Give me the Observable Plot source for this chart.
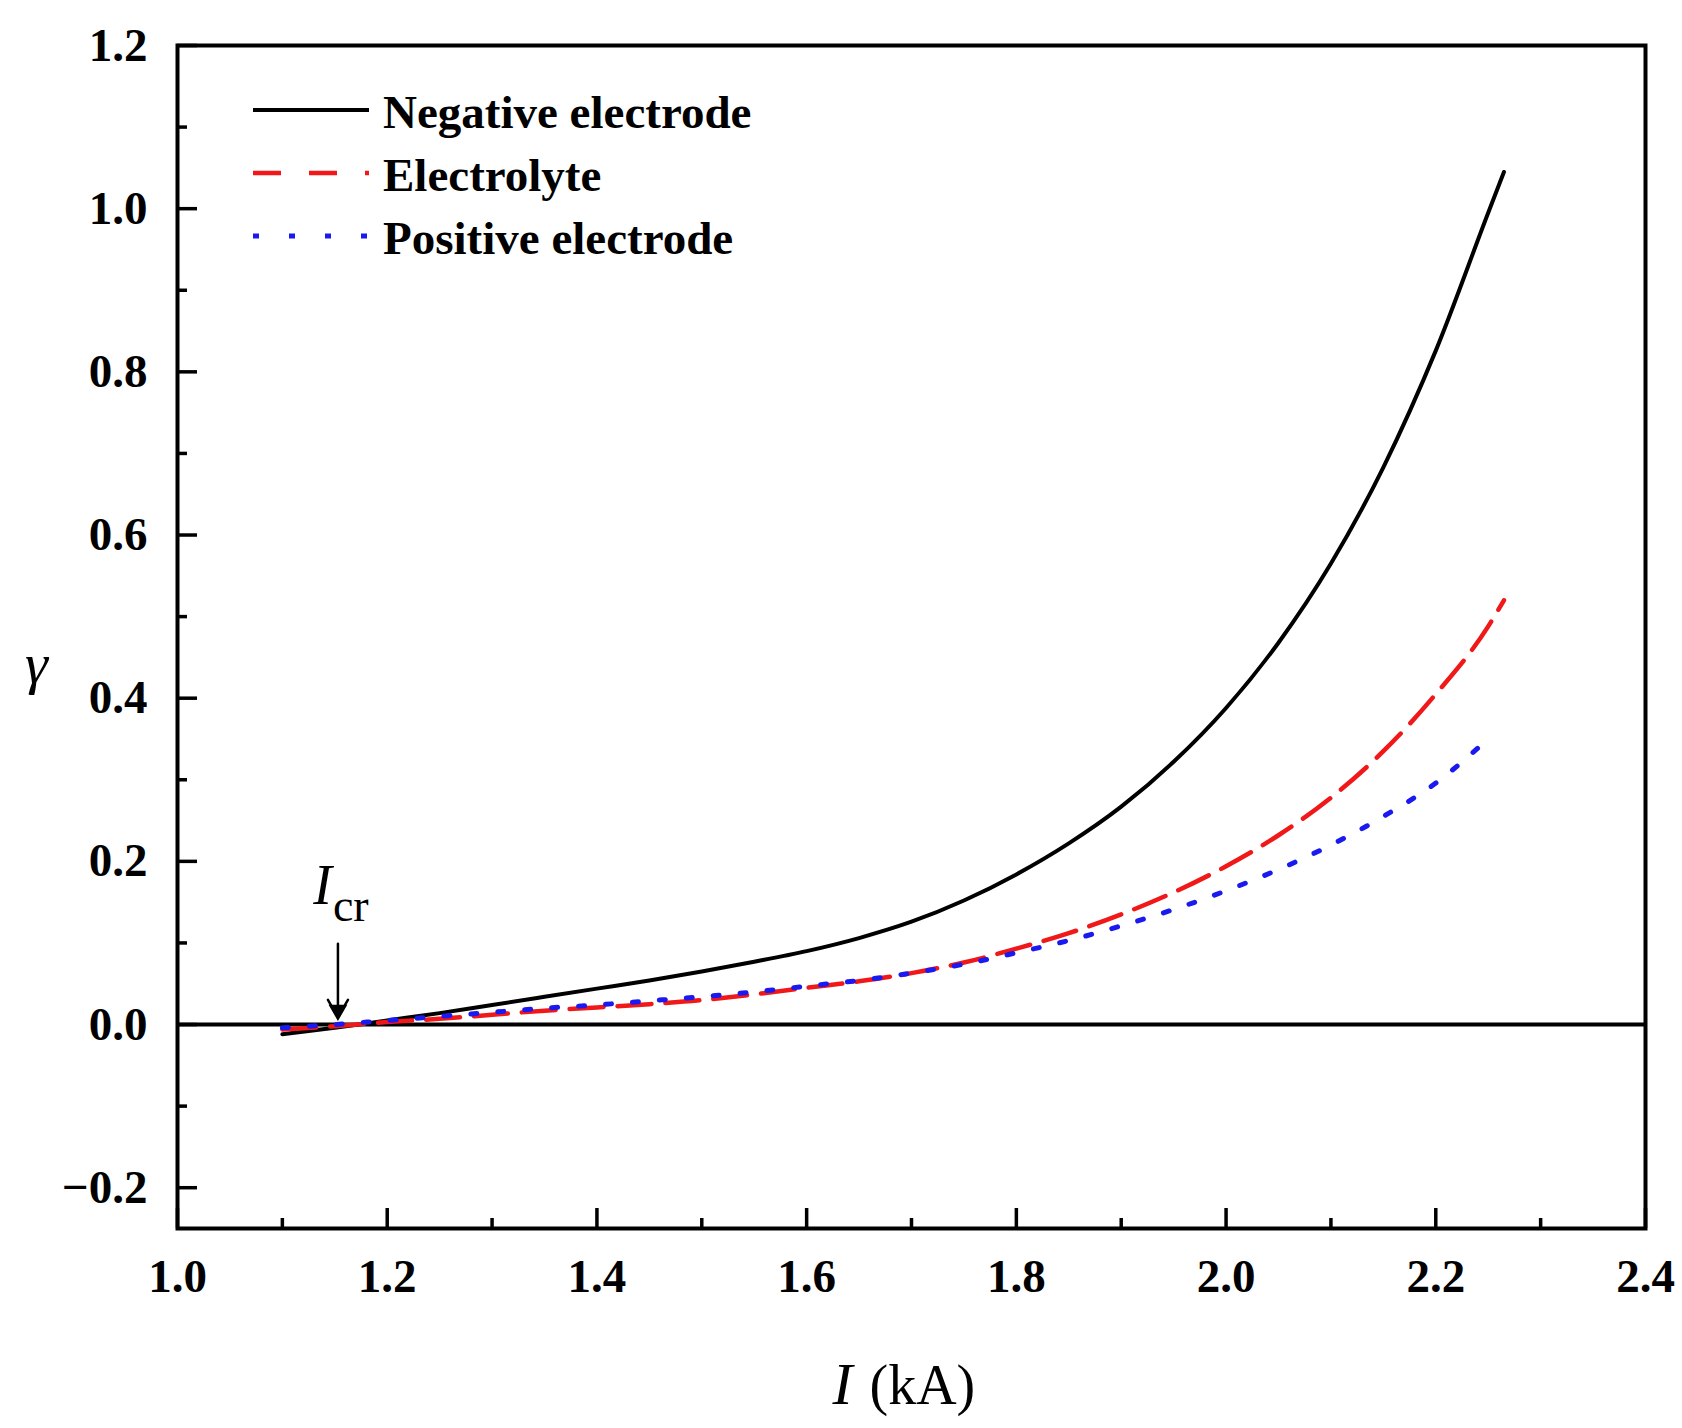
<!DOCTYPE html>
<html>
<head>
<meta charset="utf-8">
<script src="https://cdn.jsdelivr.net/npm/d3@7"></script>
<script src="https://cdn.jsdelivr.net/npm/@observablehq/plot@0.6"></script>
<style>
  body { margin: 0; background: #fff; }
  #wrap { position: relative; width: 1682px; height: 1428px; }
  #legend { position: absolute; left: 253px; top: 78px; font-family: "Liberation Serif", "Times New Roman", serif; font-weight: bold; font-size: 47px; color: #000; }
  .row { display: flex; align-items: center; height: 63px; }
  .row svg { width: 116px; height: 20px; margin-right: 14px; flex: none; }
  .row span { line-height: 1; position: relative; top: 3px; }
</style>
</head>
<body>
<div id="wrap"><div id="legend"></div></div>
<script>
// ---- data ----
const seriesNames = ["Negative electrode", "Electrolyte", "Positive electrode"];

const currentNeg = [1.10,1.15,1.20,1.25,1.30,1.35,1.40,1.45,1.50,1.55,1.60,1.65,1.70,1.75,1.80,1.85,1.90,1.95,2.00,2.05,2.10,2.15,2.20,2.25,2.265];
const gammaNeg   = [-0.012,-0.004,0.005,0.014,0.024,0.034,0.044,0.054,0.065,0.077,0.090,0.106,0.126,0.152,0.184,0.222,0.267,0.322,0.388,0.468,0.565,0.683,0.826,0.995,1.045];

const currentEl = [1.10,1.15,1.20,1.25,1.30,1.35,1.40,1.45,1.50,1.55,1.60,1.65,1.70,1.75,1.80,1.85,1.90,1.95,2.00,2.05,2.10,2.15,2.20,2.25,2.265];
const gammaEl   = [-0.006,-0.002,0.003,0.007,0.012,0.017,0.021,0.025,0.030,0.037,0.045,0.053,0.063,0.076,0.093,0.112,0.135,0.162,0.194,0.232,0.278,0.335,0.405,0.488,0.520];

const currentPos = [1.10,1.15,1.20,1.25,1.30,1.35,1.40,1.45,1.50,1.55,1.60,1.65,1.70,1.75,1.80,1.85,1.90,1.95,2.00,2.05,2.10,2.15,2.20,2.25];
const gammaPos   = [-0.004,0.000,0.005,0.010,0.015,0.020,0.024,0.029,0.034,0.040,0.047,0.054,0.063,0.074,0.088,0.103,0.121,0.141,0.164,0.190,0.220,0.255,0.296,0.350];

const xMajor = [1.0,1.2,1.4,1.6,1.8,2.0,2.2,2.4];
const xMinor = [1.1,1.3,1.5,1.7,1.9,2.1,2.3];
const yMajor = [-0.2,0.0,0.2,0.4,0.6,0.8,1.0,1.2];
const yMinor = [-0.1,0.1,0.3,0.5,0.7,0.9,1.1];

const icr = [{current: 1.153, labelGamma: 0.148, arrowFrom: 0.099, arrowTo: 0.009}];

// ---- build ----
const toRows = (xs, ys) => xs.map((x, i) => ({x, y: ys[i]}));
const neg = toRows(currentNeg, gammaNeg);
const ele = toRows(currentEl, gammaEl);
const pos = toRows(currentPos, gammaPos);

const styles = [
  {stroke: "#000000", strokeWidth: 4, dash: null},
  {stroke: "#f01818", strokeWidth: 4.5, dash: "34,14"},
  {stroke: "#1a1af0", strokeWidth: 5, dash: "6,21"}
];

const fmt = d => (d < 0 ? "\u2212" : "") + Math.abs(d).toFixed(1);
const serif = "Liberation Serif, Times New Roman, serif";

const chart = Plot.plot({
  width: 1682,
  height: 1428,
  marginLeft: 177,
  marginRight: 37,
  marginTop: 45,
  marginBottom: 200,
  style: {fontFamily: serif, background: "white", color: "black"},
  x: {domain: [1.0, 2.4]},
  y: {domain: [-0.25, 1.2]},
  marks: [
    Plot.ruleY([0], {stroke: "black", strokeWidth: 4}),
    Plot.line(neg, {x: "x", y: "y", stroke: styles[0].stroke, strokeWidth: styles[0].strokeWidth, curve: "monotone-x"}),
    Plot.line(ele, {x: "x", y: "y", stroke: styles[1].stroke, strokeWidth: styles[1].strokeWidth, strokeDasharray: styles[1].dash, curve: "monotone-x"}),
    Plot.line(pos, {x: "x", y: "y", stroke: styles[2].stroke, strokeWidth: styles[2].strokeWidth, strokeDasharray: styles[2].dash, curve: "monotone-x"}),
    // inward ticks
    Plot.axisX(xMajor, {tickSize: -20, strokeWidth: 3.5, tickFormat: () => "", label: null}),
    Plot.axisX(xMinor, {tickSize: -10, strokeWidth: 3.5, tickFormat: () => "", label: null}),
    Plot.axisY(yMajor, {tickSize: -20, strokeWidth: 3.5, tickFormat: () => "", label: null}),
    Plot.axisY(yMinor, {tickSize: -10, strokeWidth: 3.5, tickFormat: () => "", label: null}),
    // tick labels
    Plot.axisX(xMajor, {tickSize: 0, tickPadding: 30, tickFormat: fmt, fontSize: 47, fontWeight: "bold", label: null}),
    Plot.axisY(yMajor, {tickSize: 0, tickPadding: 30, tickFormat: fmt, fontSize: 47, fontWeight: "bold", label: null}),
    Plot.frame({stroke: "black", strokeWidth: 4}),
    // axis titles
    Plot.text(["I"], {frameAnchor: "bottom", dx: -79, dy: 175, textAnchor: "start", lineAnchor: "bottom", fontSize: 60, fontStyle: "italic"}),
    Plot.text(["(kA)"], {frameAnchor: "bottom", dx: -42, dy: 175, textAnchor: "start", lineAnchor: "bottom", fontSize: 56}),
    Plot.text(["\u03b3"], {frameAnchor: "left", dx: -141, dy: 46, textAnchor: "middle", lineAnchor: "bottom", fontSize: 58, fontStyle: "italic"}),
    // I_cr annotation
    Plot.arrow(icr, {x1: "current", x2: "current", y1: "arrowFrom", y2: "arrowTo", stroke: "black", strokeWidth: 2.5, headLength: 12}),
    Plot.dot(icr, {x: "current", y: "arrowTo", symbol: "triangle", rotate: 180, r: 6, fill: "black", stroke: "black", dy: -7}),
    Plot.text(icr, {x: "current", y: "labelGamma", text: () => "I", textAnchor: "end", lineAnchor: "bottom", dx: -6, fontSize: 56, fontStyle: "italic"}),
    Plot.text(icr, {x: "current", y: "labelGamma", text: () => "cr", textAnchor: "start", lineAnchor: "bottom", dx: -5, dy: 17, fontSize: 46})
  ]
});
document.getElementById("wrap").prepend(chart);

// legend
const legend = document.getElementById("legend");
seriesNames.forEach((name, i) => {
  const s = styles[i];
  const row = document.createElement("div");
  row.className = "row";
  row.innerHTML = `<svg viewBox="0 0 116 20"><line x1="0" y1="10" x2="116" y2="10" stroke="${s.stroke}" stroke-width="${s.strokeWidth}" ${s.dash ? `stroke-dasharray="${i === 1 ? "28,28" : "6,30"}"` : ""}/></svg><span>${name}</span>`;
  legend.appendChild(row);
});
</script>
</body>
</html>
